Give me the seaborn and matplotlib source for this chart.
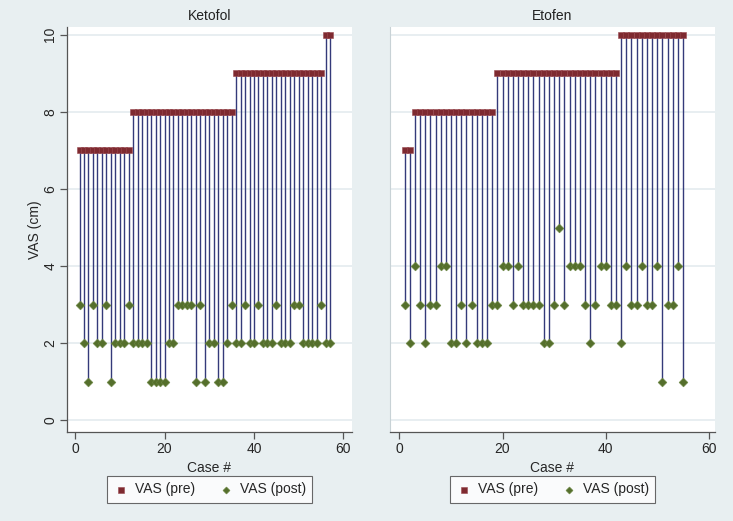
import numpy as np
import pandas as pd
import matplotlib
matplotlib.use('Agg')
import matplotlib.pyplot as plt
import seaborn as sns

sns.set_style('white')
plt.rcParams['font.family'] = ['Liberation Sans', 'DejaVu Sans']

# data
ketofol_pre = [7]*12 + [8]*23 + [9]*20 + [10]*2
ketofol_post = [3, 2, 1, 3, 2, 2, 3, 1, 2, 2, 2, 3, 2, 2, 2, 2, 1, 1, 1, 1,
                2, 2, 3, 3, 3, 3, 1, 3, 1, 2, 2, 1, 1, 2, 3, 2, 2, 3, 2, 2,
                3, 2, 2, 2, 3, 2, 2, 2, 3, 3, 2, 2, 2, 2, 3, 2, 2]
etofen_pre = [7]*2 + [8]*16 + [9]*24 + [10]*13
etofen_post = [3, 2, 4, 3, 2, 3, 3, 4, 4, 2, 2, 3, 2, 3, 2, 2, 2, 3, 3, 4,
               4, 3, 4, 3, 3, 3, 3, 2, 2, 3, 5, 3, 4, 4, 4, 3, 2, 3, 4, 4,
               3, 3, 2, 4, 3, 3, 4, 3, 3, 4, 1, 3, 3, 4, 1]
groups = ['Ketofol', 'Etofen']
x_ticks = [0, 20, 40, 60]
y_ticks = [0, 2, 4, 6, 8, 10]

bg = '#e8eff1'
grid_col = '#e2eaed'
line_col = '#343a7a'
pre_col = '#7e2a30'
post_col = '#556f2c'

frames = []
for g, pre, post in [('Ketofol', ketofol_pre, ketofol_post), ('Etofen', etofen_pre, etofen_post)]:
    frames.append(pd.DataFrame({'group': g, 'case': np.arange(1, len(pre)+1), 'pre': pre, 'post': post}))
df = pd.concat(frames, ignore_index=True)

fig = plt.figure(figsize=(7.33, 5.21), dpi=100, facecolor=bg)
ax1 = fig.add_axes([0.0914, 0.1708, 0.3888, 0.7774])
ax2 = fig.add_axes([0.532, 0.1708, 0.4434, 0.7774])
xlims = [(-1.8, 61.9), (-1.84, 61.2)]

for ax, g, xl in zip([ax1, ax2], groups, xlims):
    d = df[df.group == g]
    ax.set_facecolor('white')
    for yt in y_ticks:
        ax.axhline(yt, color=grid_col, lw=1.1, zorder=0)
    ax.vlines(d.case, d.post, d.pre, color=line_col, lw=1.0, zorder=1)
    sns.scatterplot(x=d.case, y=d.pre, marker='s', s=22, color=pre_col, edgecolor='#9a4a50',
                    linewidth=0.4, ax=ax, zorder=3, label='VAS (pre)')
    sns.scatterplot(x=d.case, y=d.post, marker='D', s=20, color=post_col, edgecolor='#6a8540',
                    linewidth=0.4, ax=ax, zorder=3, label='VAS (post)')
    ax.set_xlim(xl)
    ax.set_ylim(-0.3, 10.2)
    ax.set_xticks(x_ticks)
    ax.set_yticks(y_ticks)
    ax.set_title(g, fontsize=10, color='#222222', pad=5)
    ax.set_xlabel('Case #', fontsize=10, labelpad=4)
    for s in ['top', 'right']:
        ax.spines[s].set_visible(False)
    ax.spines['bottom'].set_color('#555555')
    ax.spines['bottom'].set_linewidth(0.9)
    ax.tick_params(axis='x', direction='out', length=5, width=0.9, color='#555555',
                   labelsize=10, pad=2, bottom=True)
    leg = ax.legend(loc='upper center', bbox_to_anchor=(0.5, -0.092), ncol=2, frameon=True,
                    fancybox=False, fontsize=10, markerscale=0.8, handletextpad=0.4,
                    columnspacing=1.6, borderpad=0.45, handlelength=1.2)
    leg.get_frame().set_edgecolor('#444444')
    leg.get_frame().set_linewidth(0.8)

ax1.set_ylabel('VAS (cm)', fontsize=10, labelpad=1)
ax1.spines['left'].set_color('#555555')
ax1.spines['left'].set_linewidth(0.9)
ax1.tick_params(axis='y', direction='out', length=5, width=0.9, color='#555555',
                labelsize=10, pad=2, left=True, labelrotation=90)
for lbl in ax1.get_yticklabels():
    lbl.set_va('center')
ax2.set_ylabel('')
ax2.spines['left'].set_color('#c8d2d6')
ax2.spines['left'].set_linewidth(0.8)
ax2.tick_params(axis='y', left=False, labelleft=False)

fig.savefig('out.png', dpi=100, facecolor=bg)
